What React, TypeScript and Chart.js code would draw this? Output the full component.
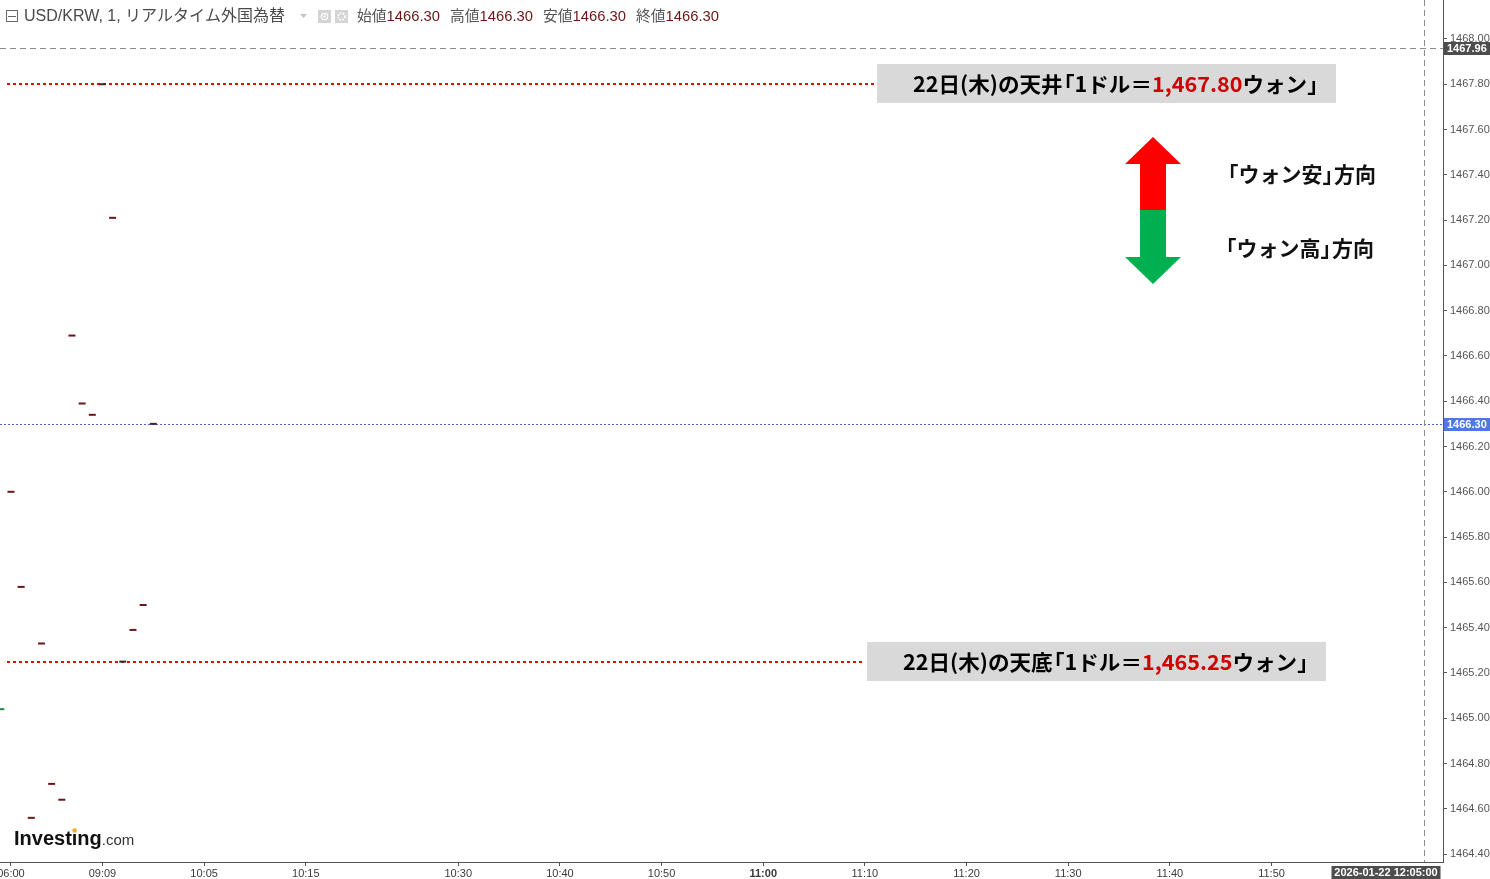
import React, { useEffect, useRef } from 'react';
import { Chart, registerables } from 'chart.js';

Chart.register(...registerables);

// One-minute bars (open = close, so each bar is a flat tick)
const slotIndex = [-1, 0, 1, 2, 3, 4, 5, 6, 7, 8, 9, 10, 11, 12, 13, 14];
const closePrices = [
  1465.04, 1466.0, 1465.58, 1464.56, 1465.33, 1464.71, 1464.64, 1466.69,
  1466.39, 1466.34, 1467.8, 1467.21, 1465.25, 1465.39, 1465.5, 1466.3,
];
const risingSlots = [-1];
const flatSlots = [9, 11, 14];

// Time axis
const tickSlots = [0, 9, 19, 29, 44, 54, 64, 74, 84, 94, 104, 114, 124];
const tickLabels = ['06:00', '09:09', '10:05', '10:15', '10:30', '10:40', '10:50', '11:00', '11:10', '11:20', '11:30', '11:40', '11:50'];
const slotMin = -1.08;
const slotMax = 140.87;

// Price axis
const priceTicks = [
  1464.4, 1464.6, 1464.8, 1465.0, 1465.2, 1465.4, 1465.6, 1465.8, 1466.0,
  1466.2, 1466.4, 1466.6, 1466.8, 1467.0, 1467.2, 1467.4, 1467.6, 1467.8, 1468.0,
];
const priceMin = 1464.365;
const priceMax = 1468.172;

// Reference levels
const dayHigh = 1467.8;
const dayLow = 1465.25;
const lastPrice = 1466.3;
const cursorPrice = 1467.96;
const cursorSlot = 139;
const cursorStamp = '2026-01-22 12:05:00';

// Header
const symbolTitle = 'USD/KRW, 1, リアルタイム外国為替';
const ohlcNames = ['始値', '高値', '安値', '終値'];
const ohlcValues = [1466.3, 1466.3, 1466.3, 1466.3];

const LATIN = "'Liberation Sans', Arial, 'Noto Sans CJK JP', sans-serif";
const JP = "'Noto Sans CJK JP', 'Liberation Sans', sans-serif";

type Run = [string, string];

// Splits runs into single pieces so that corner brackets take half an em.
function layoutRuns(ctx: CanvasRenderingContext2D, runs: Run[]) {
  const pieces: { t: string; c: string; dx: number; adv: number }[] = [];
  for (const [text, color] of runs) {
    let buf = '';
    const flush = () => {
      if (buf) {
        pieces.push({ t: buf, c: color, dx: 0, adv: ctx.measureText(buf).width });
        buf = '';
      }
    };
    for (const ch of text) {
      if (ch === '「' || ch === '」') {
        flush();
        const w = ctx.measureText(ch).width;
        pieces.push({ t: ch, c: color, dx: ch === '「' ? -w * 0.45 : 0, adv: w * 0.55 });
      } else {
        buf += ch;
      }
    }
    flush();
  }
  return pieces;
}

function drawRuns(
  ctx: CanvasRenderingContext2D,
  runs: Run[],
  x: number,
  y: number,
  font: string,
  fitWidth?: number,
) {
  ctx.save();
  ctx.font = font;
  ctx.textBaseline = 'middle';
  ctx.textAlign = 'left';
  const pieces = layoutRuns(ctx, runs);
  const total = pieces.reduce((s, p) => s + p.adv, 0);
  const k = fitWidth ? fitWidth / total : 1;
  ctx.translate(x, y);
  ctx.scale(k, 1);
  let cx = 0;
  for (const p of pieces) {
    ctx.fillStyle = p.c;
    ctx.fillText(p.t, cx + p.dx, 0);
    cx += p.adv;
  }
  ctx.restore();
}

function fmtKrw(v: number) {
  return v.toLocaleString('en-US', { minimumFractionDigits: 2, maximumFractionDigits: 2 });
}

const levelLines = {
  id: 'levelLines',
  beforeDatasetsDraw(chart: any) {
    const { ctx, scales } = chart;
    const y = scales.y;
    ctx.save();
    ctx.strokeStyle = '#ff0000';
    ctx.lineWidth = 2;
    ctx.setLineDash([3, 3]);
    const yh = Math.round(y.getPixelForValue(dayHigh));
    ctx.beginPath();
    ctx.moveTo(7, yh);
    ctx.lineTo(875, yh);
    ctx.stroke();
    const yl = Math.round(y.getPixelForValue(dayLow));
    ctx.beginPath();
    ctx.moveTo(7, yl);
    ctx.lineTo(865, yl);
    ctx.stroke();

    // last price line
    ctx.strokeStyle = '#4a67c9';
    ctx.lineWidth = 1;
    ctx.setLineDash([2, 2]);
    const yp = Math.round(y.getPixelForValue(lastPrice)) + 0.5;
    ctx.beginPath();
    ctx.moveTo(0, yp);
    ctx.lineTo(chart.chartArea.right, yp);
    ctx.stroke();
    ctx.restore();
  },
};

const overlay = {
  id: 'overlay',
  afterDraw(chart: any) {
    const { ctx, scales, chartArea } = chart;
    const xs = scales.x;
    const ys = scales.y;

    ctx.save();
    // crosshair
    ctx.strokeStyle = '#8c8c8c';
    ctx.lineWidth = 1;
    ctx.setLineDash([6, 4]);
    const cx = Math.round(xs.getPixelForValue(cursorSlot)) + 0.5;
    ctx.beginPath();
    ctx.moveTo(cx, 0);
    ctx.lineTo(cx, chartArea.bottom);
    ctx.stroke();
    const cy = Math.round(ys.getPixelForValue(cursorPrice)) + 0.5;
    ctx.beginPath();
    ctx.moveTo(0, cy);
    ctx.lineTo(chartArea.right, cy);
    ctx.stroke();
    ctx.setLineDash([]);

    // axis badges
    const badge = (text: string, x: number, yc: number, w: number, bg: string) => {
      ctx.fillStyle = bg;
      ctx.fillRect(x, Math.round(yc) - 6, w, 13);
      ctx.fillStyle = '#ffffff';
      ctx.font = `bold 11px ${LATIN}`;
      ctx.textBaseline = 'middle';
      ctx.textAlign = 'left';
      ctx.fillText(text, x + 3, Math.round(yc) + 0.5);
    };
    badge(cursorPrice.toFixed(2), chartArea.right + 1, ys.getPixelForValue(cursorPrice), 47, '#4d4d4d');
    badge(lastPrice.toFixed(2), chartArea.right + 1, ys.getPixelForValue(lastPrice), 47, '#4f78e3');
    ctx.fillStyle = '#4d4d4d';
    ctx.fillRect(cx - 93, chartArea.bottom + 4, 109, 13);
    ctx.fillStyle = '#ffffff';
    ctx.font = `bold 11px ${LATIN}`;
    ctx.textAlign = 'center';
    ctx.textBaseline = 'middle';
    ctx.fillText(cursorStamp, cx - 38.5, chartArea.bottom + 11);

    // header
    ctx.strokeStyle = '#666';
    ctx.lineWidth = 1;
    ctx.strokeRect(6.5, 10.5, 11, 11);
    ctx.beginPath();
    ctx.moveTo(8, 16.5);
    ctx.lineTo(16, 16.5);
    ctx.stroke();
    drawRuns(ctx, [[symbolTitle, '#4a4a4a']], 24, 17, `16px ${LATIN}`);
    ctx.fillStyle = '#c4c4c4';
    ctx.beginPath();
    ctx.moveTo(300, 14);
    ctx.lineTo(307, 14);
    ctx.lineTo(303.5, 18);
    ctx.closePath();
    ctx.fill();
    // eye / gear toggles
    ctx.fillStyle = '#d4d4d4';
    ctx.fillRect(318, 10, 13, 13);
    ctx.fillRect(335, 10, 13, 13);
    ctx.strokeStyle = '#ffffff';
    ctx.lineWidth = 1.2;
    ctx.beginPath();
    ctx.arc(324.5, 16.5, 3.2, 0, Math.PI * 2);
    ctx.stroke();
    ctx.fillStyle = '#ffffff';
    ctx.beginPath();
    ctx.arc(324.5, 16.5, 1.2, 0, Math.PI * 2);
    ctx.fill();
    ctx.beginPath();
    ctx.arc(341.5, 16.5, 3.4, 0, Math.PI * 2);
    ctx.lineWidth = 2;
    ctx.setLineDash([1.6, 1.2]);
    ctx.stroke();
    ctx.setLineDash([]);
    ohlcNames.forEach((n, i) => {
      drawRuns(ctx, [[n, '#555555'], [ohlcValues[i].toFixed(2), '#6b1616']], 357 + i * 93, 17, `15px ${LATIN}`, 83);
    });

    // level annotations
    const hiY = Math.round(ys.getPixelForValue(dayHigh));
    ctx.fillStyle = '#d9d9d9';
    ctx.fillRect(877, hiY - 20, 459, 39);
    drawRuns(
      ctx,
      [['22日(木)の天井「1ドル＝', '#000000'], [fmtKrw(dayHigh), '#d00000'], ['ウォン」', '#000000']],
      913,
      hiY,
      `bold 21px ${JP}`,
      406,
    );
    const loY = Math.round(ys.getPixelForValue(dayLow));
    ctx.fillStyle = '#d9d9d9';
    ctx.fillRect(867, loY - 20, 459, 39);
    drawRuns(
      ctx,
      [['22日(木)の天底「1ドル＝', '#000000'], [fmtKrw(dayLow), '#d00000'], ['ウォン」', '#000000']],
      903,
      loY,
      `bold 21px ${JP}`,
      406,
    );

    // direction arrow
    ctx.fillStyle = '#ff0000';
    ctx.beginPath();
    ctx.moveTo(1153, 137);
    ctx.lineTo(1181, 164);
    ctx.lineTo(1166, 164);
    ctx.lineTo(1166, 210);
    ctx.lineTo(1140, 210);
    ctx.lineTo(1140, 164);
    ctx.lineTo(1125, 164);
    ctx.closePath();
    ctx.fill();
    ctx.fillStyle = '#00b050';
    ctx.beginPath();
    ctx.moveTo(1140, 210);
    ctx.lineTo(1166, 210);
    ctx.lineTo(1166, 257);
    ctx.lineTo(1181, 257);
    ctx.lineTo(1153, 284);
    ctx.lineTo(1125, 257);
    ctx.lineTo(1140, 257);
    ctx.closePath();
    ctx.fill();
    drawRuns(ctx, [['「ウォン安」方向', '#111111']], 1227, 174, `bold 21px ${JP}`, 149);
    drawRuns(ctx, [['「ウォン高」方向', '#111111']], 1225, 248, `bold 21px ${JP}`, 149);

    // logo
    ctx.font = `bold 20px ${LATIN}`;
    ctx.textBaseline = 'alphabetic';
    ctx.textAlign = 'left';
    ctx.fillStyle = '#111111';
    ctx.fillText('Investing', 14, 845);
    const wInv = ctx.measureText('Investing').width;
    const wPre = ctx.measureText('Invest').width;
    const wI = ctx.measureText('i').width;
    ctx.fillStyle = '#f5a623';
    ctx.beginPath();
    ctx.arc(14 + wPre + wI / 2, 830.5, 2.2, 0, Math.PI * 2);
    ctx.fill();
    ctx.font = `15px ${LATIN}`;
    ctx.fillStyle = '#333333';
    ctx.fillText('.com', 14 + wInv, 845);

    ctx.restore();
  },
};

export default function App() {
  const canvasRef = useRef<HTMLCanvasElement | null>(null);

  useEffect(() => {
    const canvas = canvasRef.current;
    if (!canvas) return;
    const colors = slotIndex.map((s) =>
      risingSlots.includes(s) ? '#1f8a4c' : flatSlots.includes(s) ? '#3a2a2a' : '#6b1616',
    );
    const chart = new Chart(canvas, {
      type: 'scatter',
      data: {
        datasets: [
          {
            data: slotIndex.map((s, i) => ({ x: s, y: closePrices[i] })),
            pointStyle: 'line',
            pointRadius: 3.5,
            pointHoverRadius: 3.5,
            pointBorderWidth: 2,
            pointBorderColor: colors,
            pointBackgroundColor: colors,
            showLine: false,
          } as any,
        ],
      },
      options: {
        animation: false,
        responsive: false,
        maintainAspectRatio: false,
        events: [],
        layout: { padding: 0, autoPadding: false },
        plugins: { legend: { display: false }, tooltip: { enabled: false } },
        scales: {
          x: {
            type: 'linear',
            position: 'bottom',
            min: slotMin,
            max: slotMax,
            afterBuildTicks: (s: any) => {
              s.ticks = tickSlots.map((v) => ({ value: v }));
            },
            afterFit: (s: any) => {
              s.height = 17;
              s.paddingLeft = 0;
              s.paddingRight = 0;
            },
            ticks: {
              autoSkip: false,
              maxRotation: 0,
              minRotation: 0,
              padding: 1,
              color: '#3a3a3a',
              callback: (_v: any, i: number) => tickLabels[i],
              font: (c: any) => ({
                family: LATIN,
                size: 11,
                weight: tickLabels[c.index] === '11:00' ? 'bold' : 'normal',
              }),
            },
            grid: { drawOnChartArea: false, drawTicks: true, tickLength: 4, color: '#555555' },
            border: { color: '#555555' },
          },
          y: {
            type: 'linear',
            position: 'right',
            min: priceMin,
            max: priceMax,
            afterBuildTicks: (s: any) => {
              s.ticks = priceTicks.map((v) => ({ value: v }));
            },
            afterFit: (s: any) => {
              s.width = 47;
              s.paddingTop = 0;
              s.paddingBottom = 0;
            },
            ticks: {
              autoSkip: false,
              padding: 3,
              color: '#555555',
              font: { family: LATIN, size: 11 },
              callback: (v: any) => Number(v).toFixed(2),
            },
            grid: { drawOnChartArea: false, drawTicks: true, tickLength: 4, color: '#555555' },
            border: { color: '#555555' },
          },
        },
      } as any,
      plugins: [levelLines, overlay],
    });
    return () => chart.destroy();
  }, []);

  return (
    <div style={{ position: 'fixed', left: 0, top: 0, width: 1490, height: 879, background: '#ffffff' }}>
      <canvas ref={canvasRef} width={1490} height={879} style={{ display: 'block', width: 1490, height: 879 }} />
    </div>
  );
}
